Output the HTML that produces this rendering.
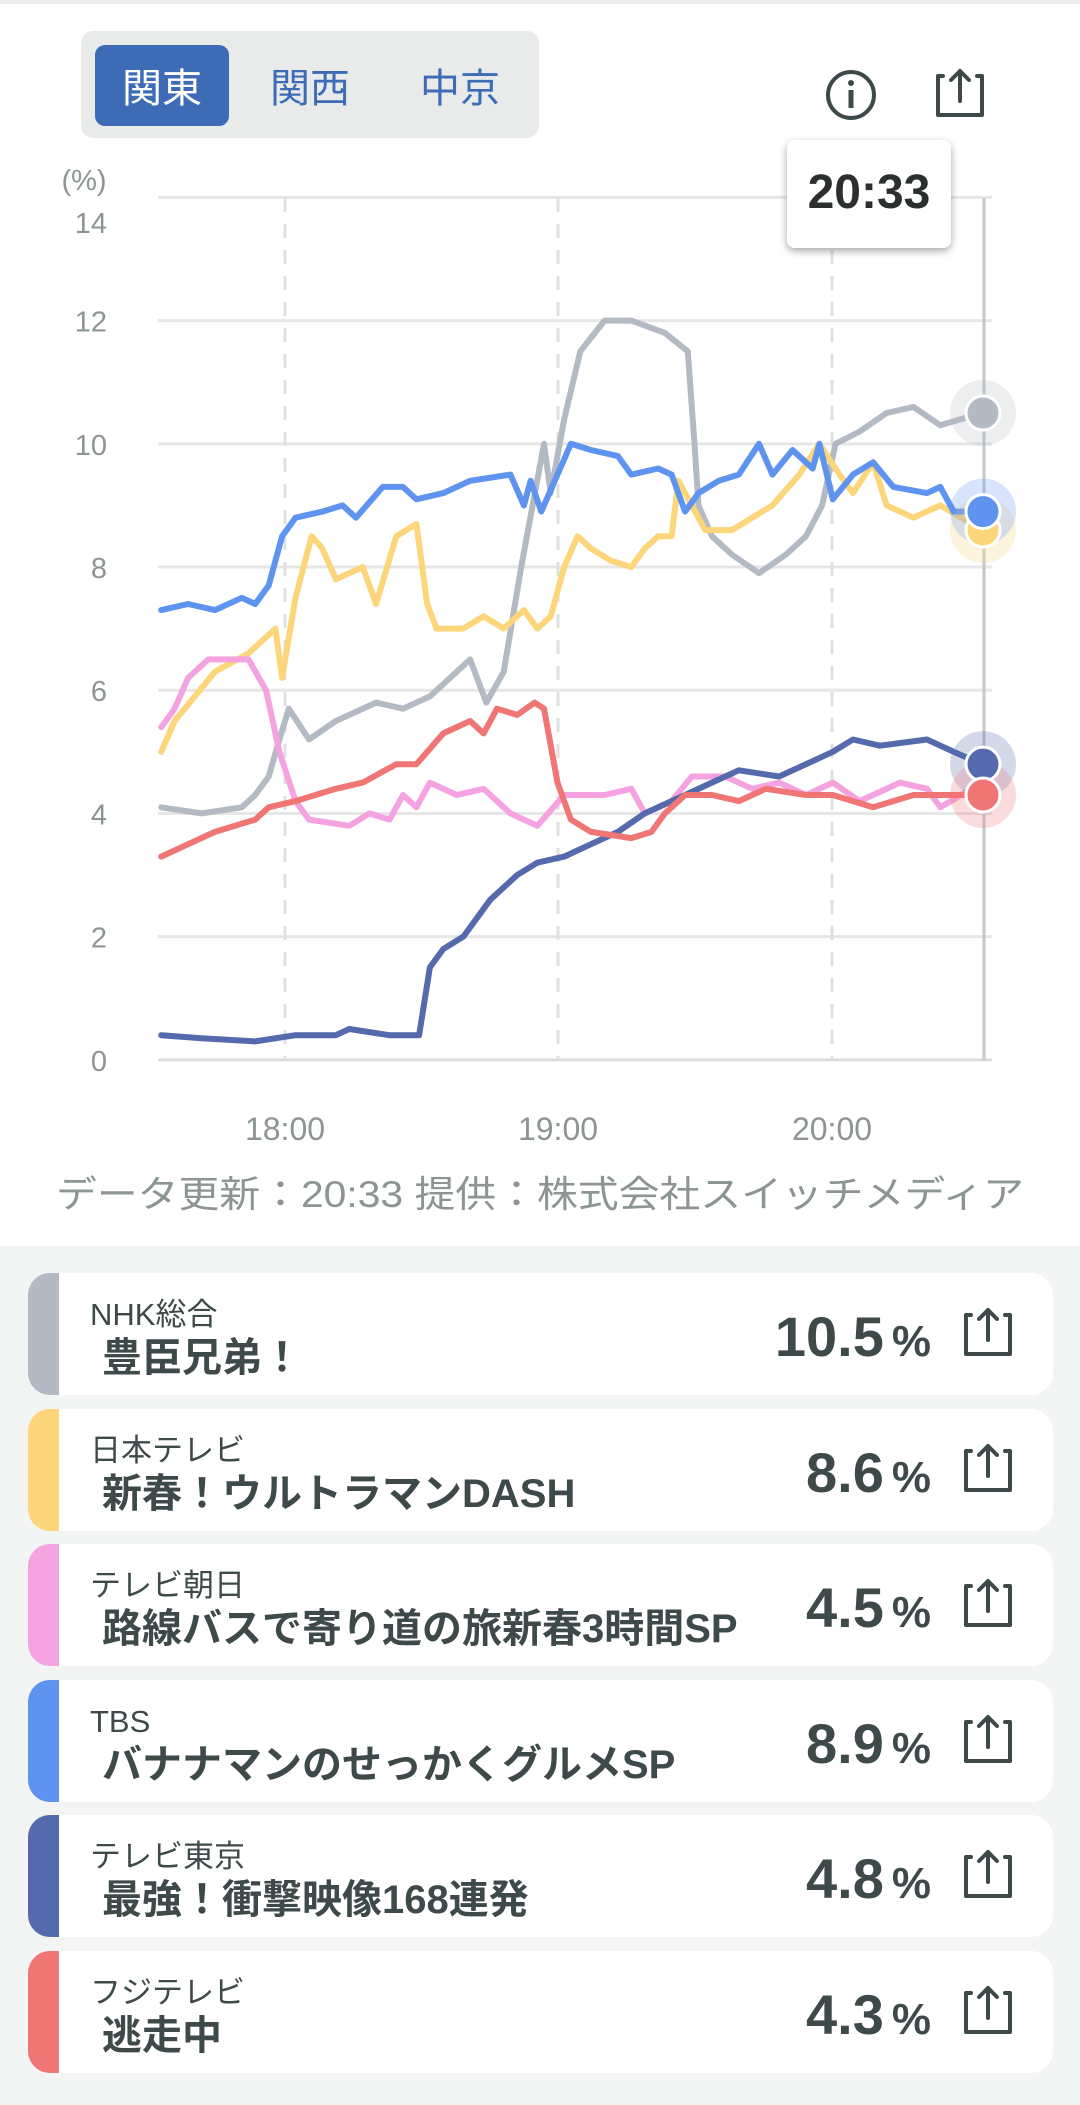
<!DOCTYPE html>
<html><head><meta charset="utf-8">
<style>
html,body{margin:0;padding:0;width:1080px;height:2105px;background:#fff;overflow:hidden;font-family:"Liberation Sans","Noto Sans CJK JP",sans-serif;}
#chart{position:absolute;left:0;top:0;}
#list{position:absolute;left:0;top:1246px;width:1080px;height:859px;background:#f3f4f4;}
.card{position:absolute;left:28px;width:1025px;height:122px;background:#fff;border-radius:22px;overflow:hidden;}
.bar{position:absolute;left:0;top:0;width:31px;height:122px;}
.ch{position:absolute;left:62px;top:25px;font-size:31px;color:#3e4a4a;white-space:nowrap;line-height:1.1;}
.ti{position:absolute;left:74px;top:63px;font-size:40px;font-weight:bold;color:#3e4a4a;white-space:nowrap;line-height:1.1;}
.pc{position:absolute;right:122px;top:33px;font-size:56px;font-weight:bold;color:#3e4a4a;white-space:nowrap;line-height:1.1;}
.pc span{font-size:44px;margin-left:8px;}
.sh{position:absolute;left:933px;top:34px;}
</style></head><body>
<svg id="chart" width="1080" height="1246" viewBox="0 0 1080 1246">
<rect x="0" y="0" width="1080" height="4" fill="#ececec"/>
<rect x="81" y="31" width="458" height="107" rx="12" fill="#e9ebeb"/>
<rect x="95" y="45" width="134" height="81" rx="10" fill="#3d6bb5"/>
<g font-family="Liberation Sans, Noto Sans CJK JP, sans-serif" font-size="40" text-anchor="middle">
<text x="162" y="102" fill="#fff">関東</text>
<text x="310" y="102" fill="#3d6bb5">関西</text>
<text x="460" y="102" fill="#3d6bb5">中京</text>
</g>
<circle cx="851" cy="95" r="23" fill="none" stroke="#3e4a4a" stroke-width="4"/>
<circle cx="851" cy="83" r="3" fill="#3e4a4a"/>
<rect x="848.5" y="90" width="5" height="18" fill="#3e4a4a"/>
<g transform="translate(933,68)" fill="none" stroke="#3e4a4a" stroke-width="4" stroke-linejoin="round" stroke-linecap="round">
<path d="M10 8 H5 V47 H49 V8 H44"/><path d="M27 33 V3 M18 12 L27 3 L36 12"/>
</g>
<g id="grid"></g>
<g id="series" fill="none" stroke-width="6" stroke-linejoin="round" stroke-linecap="round"></g>
<g id="marks"></g>
<defs><filter id="sh" x="-20%" y="-20%" width="140%" height="150%"><feDropShadow dx="0" dy="3" stdDeviation="4" flood-color="#000" flood-opacity="0.35"/></filter></defs>
<rect x="787" y="140" width="164" height="108" rx="8" fill="#fff" filter="url(#sh)"/>
<text x="869" y="208" font-size="48" font-weight="bold" fill="#2b2f2f" text-anchor="middle">20:33</text>
<text x="56" y="1207" font-size="37" fill="#8c9494" textLength="968" lengthAdjust="spacingAndGlyphs" font-family="Liberation Sans, Noto Sans CJK JP, sans-serif">データ更新：20:33  提供：株式会社スイッチメディア</text>
</svg>
<div id="list"></div>
<script>
var S=1080/804;
function X(x){return x*S;}
function Y(v){return (789-v*45.86)*S;}
var g='';
for(var v=0;v<=14;v+=2){
 var y=Y(v);
 g+='<line x1="158" x2="992" y1="'+y+'" y2="'+y+'" stroke="'+(v==0?'#dcdcdc':'#e6e6e6')+'" stroke-width="3"/>';
 var ty=(v==14)?233:y+11;
 g+='<text x="107" y="'+ty+'" font-size="29" fill="#8c9494" text-anchor="end">'+v+'</text>';
}
g+='<text x="84" y="190" font-size="29" fill="#8c9494" text-anchor="middle">(%)</text>';
[[285,'18:00'],[558,'19:00'],[832,'20:00']].forEach(function(a){
 g+='<line x1="'+a[0]+'" x2="'+a[0]+'" y1="198" y2="1060" stroke="#e0e0e0" stroke-width="3" stroke-dasharray="14 12"/>';
 g+='<text x="'+a[0]+'" y="1140" font-size="32" fill="#8c9494" text-anchor="middle">'+a[1]+'</text>';
});
g+='<line x1="984" x2="984" y1="198" y2="1060" stroke="#c4c7cb" stroke-width="3"/>';
document.getElementById('grid').innerHTML=g;
var D={
gray:['#b4bac3',[[120,4.1],[150,4.0],[180,4.1],[190,4.3],[200,4.6],[208,5.2],[215,5.7],[230,5.2],[250,5.5],[280,5.8],[300,5.7],[320,5.9],[350,6.5],[362,5.8],[375,6.3],[388,8],[405,10],[410,9.2],[420,10.4],[432,11.5],[450,12],[470,12],[495,11.8],[512,11.5],[517,10],[520,9],[530,8.5],[545,8.2],[565,7.9],[585,8.2],[600,8.5],[612,9],[622,10],[640,10.2],[660,10.5],[680,10.6],[700,10.3],[731,10.5]]],
yellow:['#fdd57a',[[120,5],[130,5.5],[160,6.3],[185,6.6],[205,7],[210,6.2],[220,7.5],[232,8.5],[240,8.3],[250,7.8],[270,8],[280,7.4],[295,8.5],[310,8.7],[318,7.4],[325,7.0],[345,7.0],[360,7.2],[375,7.0],[390,7.3],[400,7.0],[410,7.2],[420,8],[430,8.5],[440,8.3],[455,8.1],[470,8.0],[480,8.3],[490,8.5],[500,8.5],[505,9.4],[515,9.0],[525,8.6],[545,8.6],[560,8.8],[575,9.0],[595,9.5],[610,10],[625,9.5],[635,9.2],[650,9.7],[660,9.0],[680,8.8],[700,9.0],[731,8.6]]],
pink:['#f5a3e0',[[120,5.4],[130,5.7],[140,6.2],[155,6.5],[185,6.5],[198,6.0],[208,5],[220,4.2],[230,3.9],[260,3.8],[275,4.0],[290,3.9],[300,4.3],[310,4.1],[320,4.5],[340,4.3],[360,4.4],[380,4.0],[400,3.8],[420,4.3],[450,4.3],[470,4.4],[480,4.0],[500,4.2],[515,4.6],[540,4.6],[560,4.4],[580,4.5],[600,4.3],[620,4.5],[640,4.2],[670,4.5],[690,4.4],[700,4.1],[731,4.5]]],
blue:['#5e93f0',[[120,7.3],[140,7.4],[160,7.3],[180,7.5],[190,7.4],[200,7.7],[210,8.5],[220,8.8],[240,8.9],[255,9.0],[265,8.8],[285,9.3],[300,9.3],[310,9.1],[330,9.2],[350,9.4],[380,9.5],[390,9.0],[395,9.4],[403,8.9],[415,9.5],[425,10],[440,9.9],[460,9.8],[470,9.5],[490,9.6],[500,9.5],[510,8.9],[520,9.2],[535,9.4],[550,9.5],[565,10.0],[575,9.5],[590,9.9],[605,9.6],[610,10],[620,9.1],[635,9.5],[650,9.7],[665,9.3],[690,9.2],[700,9.3],[710,8.9],[731,8.9]]],
navy:['#5569ad',[[120,0.4],[150,0.35],[190,0.3],[220,0.4],[250,0.4],[260,0.5],[290,0.4],[312,0.4],[320,1.5],[330,1.8],[345,2.0],[365,2.6],[385,3.0],[400,3.2],[420,3.3],[440,3.5],[460,3.7],[480,4.0],[510,4.3],[530,4.5],[550,4.7],[580,4.6],[600,4.8],[620,5.0],[635,5.2],[655,5.1],[690,5.2],[710,5.0],[731,4.8]]],
red:['#f07575',[[120,3.3],[140,3.5],[160,3.7],[190,3.9],[200,4.1],[220,4.2],[250,4.4],[270,4.5],[295,4.8],[310,4.8],[330,5.3],[350,5.5],[360,5.3],[370,5.7],[385,5.6],[398,5.8],[405,5.7],[415,4.5],[425,3.9],[440,3.7],[470,3.6],[485,3.7],[495,4.0],[510,4.3],[530,4.3],[550,4.2],[570,4.4],[600,4.3],[620,4.3],[650,4.1],[680,4.3],[731,4.3]]]
};
var s='',m='',h='';
['gray','yellow','pink','blue','navy','red'].forEach(function(k){
 var c=D[k][0],p=D[k][1];
 s+='<polyline stroke="'+c+'" points="'+p.map(function(a){return X(a[0]).toFixed(1)+','+Y(a[1]).toFixed(1);}).join(' ')+'"/>';
});
[['gray',10.5],['yellow',8.6],['blue',8.9],['navy',4.8],['red',4.3]].forEach(function(a){
 var c=D[a[0]][0],y=Y(a[1]);
 h+='<circle cx="983" cy="'+y+'" r="33" fill="'+c+'" opacity="0.25"/>';
 m+='<circle cx="983" cy="'+y+'" r="17" fill="'+c+'" stroke="#fff" stroke-width="3"/>';
});
document.getElementById('series').innerHTML=s;
document.getElementById('marks').innerHTML=h+m;
var L=[['#b4bac3','NHK総合','豊臣兄弟！','10.5'],['#fdd57a','日本テレビ','新春！ウルトラマンDASH','8.6'],['#f5a3e0','テレビ朝日','路線バスで寄り道の旅新春3時間SP','4.5'],['#5e93f0','TBS','バナナマンのせっかくグルメSP','8.9'],['#5569ad','テレビ東京','最強！衝撃映像168連発','4.8'],['#f07575','フジテレビ','逃走中','4.3']];
var icon='<svg class="sh" width="54" height="52"><g fill="none" stroke="#3e4a4a" stroke-width="4" stroke-linejoin="round" stroke-linecap="round"><path d="M10 8 H5 V47 H49 V8 H44"/><path d="M27 33 V3 M18 12 L27 3 L36 12"/></g></svg>';
var o='';
L.forEach(function(r,i){
 var t=1273+i*135.6-1246;
 o+='<div class="card" style="top:'+t+'px"><div class="bar" style="background:'+r[0]+'"></div><div class="ch">'+r[1]+'</div><div class="ti">'+r[2]+'</div><div class="pc">'+r[3]+'<span>%</span></div>'+icon+'</div>';
});
document.getElementById('list').innerHTML=o;
</script>
</body></html>
